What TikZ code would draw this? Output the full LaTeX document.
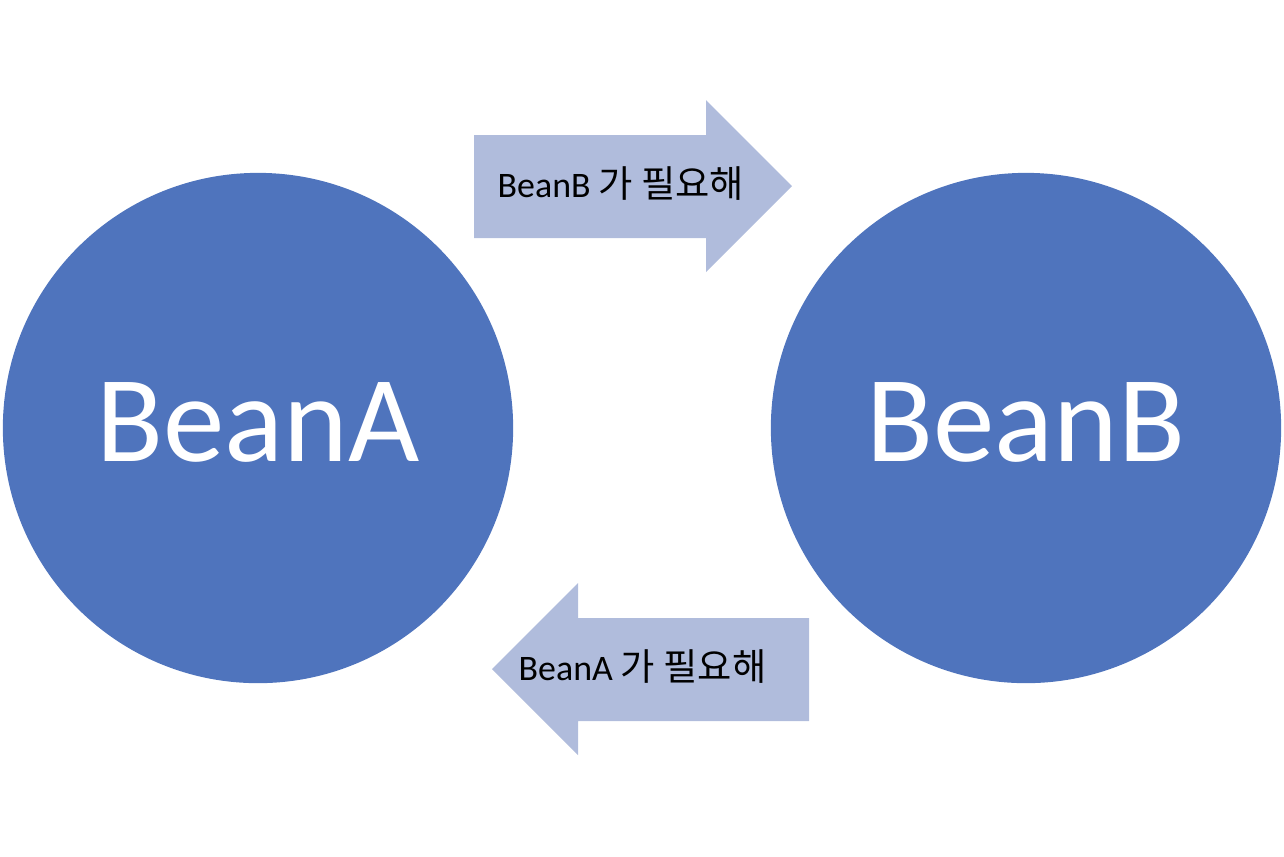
\documentclass[tikz,border=0pt]{standalone}
\usepackage{fontspec}
\setmainfont{Carlito}
\newfontfamily\krfont{Noto Sans CJK KR}
\usetikzlibrary{positioning}
\definecolor{beanblue}{RGB}{79,116,189}
\definecolor{arrowblue}{RGB}{176,188,220}

\begin{document}
\begin{tikzpicture}[
    x=0.01cm, y=-0.01cm,
    % Styles for beans and the arrow labels
    bean/.style={circle, fill=beanblue, minimum size=5.1cm, inner sep=0pt, text depth=0.12cm, text=white, font=\fontsize{35}{40}\selectfont},
    needlabel/.style={anchor=base west, inner sep=0pt, font=\fontsize{10.2}{12}\selectfont}
]
  \useasboundingbox (0,0) rectangle (1284,856);

  % --- BEANS ---
  \node[bean] (beanA) at (258,428) {BeanA};
  \node[bean] (beanB) at (1026,428) {BeanB};

  % --- ARROWS ---
  \fill[arrowblue] (474,135) -- (706,135) -- (706,100) -- (792,186) -- (706,272) -- (706,238) -- (474,238) -- cycle;
  \fill[arrowblue] (809,618) -- (578,618) -- (578,583) -- (492,669) -- (578,755) -- (578,721) -- (809,721) -- cycle;

  % --- LABELS ---
  \node[needlabel] (needB) at (497,197) {BeanB {\krfont\fontsize{10.6}{12}\selectfont 가 필요해}};
  \node[needlabel] (needA) at (518,680) {BeanA {\krfont\fontsize{10.6}{12}\selectfont 가 필요해}};

\end{tikzpicture}
\end{document}
